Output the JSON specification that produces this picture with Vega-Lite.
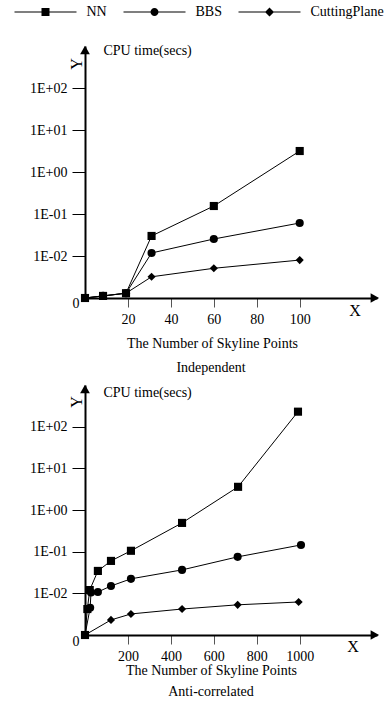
{
  "$schema": "https://vega.github.io/schema/vega-lite/v6.json",
  "padding": {"left": 12, "top": 5, "right": 0, "bottom": 0},
  "background": "white",
  "config": {
    "font": "Liberation Serif",
    "view": {"stroke": null},
    "axis": {
      "grid": false,
      "labelFont": "Liberation Serif",
      "titleFont": "Liberation Serif",
      "labelFontSize": 14,
      "titleFontSize": 14,
      "titleFontWeight": "normal",
      "labelColor": "black",
      "titleColor": "black",
      "domainColor": "black",
      "domainWidth": 2
    }
  },
  "bounds": "flush",
  "spacing": 87,
  "resolve": {"scale": {"shape": "independent"}, "legend": {"shape": "independent"}},
  "vconcat": [
    {
      "width": 292,
      "height": 252,
      "title": {"text": "Independent", "orient": "bottom", "font": "Liberation Serif", "fontSize": 14, "fontWeight": "normal", "color": "black", "offset": 11, "dx": -20},
      "resolve": {"scale": {"shape": "independent"}},
      "data": {"values": [
        {"series": "CuttingPlane", "x": 0, "y": 0.001},
        {"series": "CuttingPlane", "x": 8.4, "y": 0.00112},
        {"series": "CuttingPlane", "x": 19.1, "y": 0.0013},
        {"series": "CuttingPlane", "x": 31, "y": 0.0032},
        {"series": "CuttingPlane", "x": 60, "y": 0.0051},
        {"series": "CuttingPlane", "x": 100, "y": 0.0080},
        {"series": "BBS", "x": 0, "y": 0.001},
        {"series": "BBS", "x": 8.4, "y": 0.00112},
        {"series": "BBS", "x": 19.1, "y": 0.0013},
        {"series": "BBS", "x": 31, "y": 0.0118},
        {"series": "BBS", "x": 60, "y": 0.0254},
        {"series": "BBS", "x": 100, "y": 0.061},
        {"series": "NN", "x": 0, "y": 0.001},
        {"series": "NN", "x": 8.4, "y": 0.00112},
        {"series": "NN", "x": 19.1, "y": 0.0013},
        {"series": "NN", "x": 31, "y": 0.030},
        {"series": "NN", "x": 60, "y": 0.155},
        {"series": "NN", "x": 100, "y": 3.16}
      ]},
      "layer": [
        {
          "mark": {"type": "line", "color": "black", "strokeWidth": 1},
          "encoding": {
            "x": {"field": "x", "type": "quantitative", "scale": {"domain": [0, 136], "nice": false, "zero": false},
              "axis": {"values": [20, 40, 60, 80, 100], "tickSize": 9, "tickColor": "#555", "labelPadding": 5, "title": "The Number of Skyline Points", "titleX": 127, "titleY": 45, "titleBaseline": "middle"}},
            "y": {"field": "y", "type": "quantitative", "scale": {"type": "log", "domain": [0.001, 1000], "nice": false},
              "axis": {"values": [0.01, 0.1, 1, 10, 100], "tickSize": 13, "tickColor": "black", "labelPadding": 5,
                "labelExpr": "datum.value >= 100 ? '1E+02' : datum.value >= 10 ? '1E+01' : datum.value >= 1 ? '1E+00' : datum.value >= 0.1 ? '1E-01' : '1E-02'",
                "title": "CPU time(secs)", "titleAngle": 0, "titleAlign": "left", "titleBaseline": "middle", "titleX": 18, "titleY": 4}},
            "detail": {"field": "series"}
          }
        },
        {
          "mark": {"type": "point", "filled": true, "color": "black", "opacity": 1, "size": 66},
          "encoding": {
            "x": {"field": "x", "type": "quantitative"},
            "y": {"field": "y", "type": "quantitative"},
            "shape": {"field": "series", "type": "nominal",
              "scale": {"domain": ["NN", "BBS", "CuttingPlane"], "range": ["square", "circle", "diamond"]},
              "legend": null}
          }
        },
        {
          "data": {"values": []},
          "mark": {"type": "point", "filled": true, "color": "black", "opacity": 1, "size": 64},
          "encoding": {
            "shape": {"field": "series", "type": "nominal",
              "scale": {"domain": ["NN", "BBS", "CuttingPlane"], "range": [
                "M-7.75,-0.125L7.75,-0.125L7.75,0.125L-7.75,0.125ZM-1,-1L1,-1L1,1L-1,1Z",
                "M-7.75,-0.125L7.75,-0.125L7.75,0.125L-7.75,0.125ZM-1,0A1,1,0,1,1,1,0A1,1,0,1,1,-1,0Z",
                "M-7.75,-0.125L7.75,-0.125L7.75,0.125L-7.75,0.125ZM0,-1.125L1.125,0L0,1.125L-1.125,0Z"]},
              "legend": {"orient": "none", "legendX": -73, "legendY": -41, "direction": "horizontal", "title": null,
                "symbolSize": 64, "symbolStrokeWidth": 0, "symbolFillColor": "black", "symbolOpacity": 1,
                "symbolOffset": 26.5, "labelOffset": 34,
                "labelFont": "Liberation Serif", "labelFontSize": 14, "labelColor": "black", "columnPadding": 14}}
          }
        },
        {
          "data": {"values": [{}]},
          "mark": {"type": "point", "shape": "triangle-right", "filled": true, "color": "black", "opacity": 1, "size": 95},
          "encoding": {"x": {"datum": 135}, "y": {"datum": 0.001}}
        },
        {
          "data": {"values": [{}]},
          "mark": {"type": "point", "shape": "triangle-up", "filled": true, "color": "black", "opacity": 1, "size": 95},
          "encoding": {"x": {"datum": 0}, "y": {"datum": 800}}
        },
        {
          "data": {"values": [{}]},
          "mark": {"type": "text", "text": "0", "font": "Liberation Serif", "fontSize": 14, "color": "black", "align": "center", "baseline": "middle", "dx": -9, "dy": 6},
          "encoding": {"x": {"datum": 0}, "y": {"datum": 0.001}}
        },
        {
          "data": {"values": [{}]},
          "mark": {"type": "text", "text": "X", "font": "Liberation Serif", "fontSize": 16, "color": "black", "align": "center", "baseline": "middle", "dy": 13},
          "encoding": {"x": {"datum": 125.8}, "y": {"datum": 0.001}}
        },
        {
          "data": {"values": [{}]},
          "mark": {"type": "text", "text": "Y", "font": "Liberation Serif", "fontSize": 16, "color": "black", "align": "center", "baseline": "middle", "angle": 270},
          "encoding": {"x": {"datum": -3.7}, "y": {"datum": 373}}
        }
      ]
    },
    {
      "width": 292,
      "height": 250,
      "title": {"text": "Anti-correlated", "orient": "bottom", "font": "Liberation Serif", "fontSize": 14, "fontWeight": "normal", "color": "black", "offset": 8, "dx": -20},
      "data": {"values": [
        {"series": "CuttingPlane", "x": 0, "y": 0.001},
        {"series": "CuttingPlane", "x": 121, "y": 0.0023},
        {"series": "CuttingPlane", "x": 214, "y": 0.0032},
        {"series": "CuttingPlane", "x": 452, "y": 0.0042},
        {"series": "CuttingPlane", "x": 711, "y": 0.0053},
        {"series": "CuttingPlane", "x": 995, "y": 0.0062},
        {"series": "BBS", "x": 0, "y": 0.001},
        {"series": "BBS", "x": 24, "y": 0.0045},
        {"series": "BBS", "x": 28, "y": 0.0105},
        {"series": "BBS", "x": 60, "y": 0.0108},
        {"series": "BBS", "x": 121, "y": 0.015},
        {"series": "BBS", "x": 214, "y": 0.0223},
        {"series": "BBS", "x": 452, "y": 0.0365},
        {"series": "BBS", "x": 711, "y": 0.075},
        {"series": "BBS", "x": 1006, "y": 0.145},
        {"series": "NN", "x": 0, "y": 0.001},
        {"series": "NN", "x": 11, "y": 0.0042},
        {"series": "NN", "x": 22, "y": 0.012},
        {"series": "NN", "x": 60, "y": 0.0345},
        {"series": "NN", "x": 121, "y": 0.060},
        {"series": "NN", "x": 214, "y": 0.105},
        {"series": "NN", "x": 452, "y": 0.49},
        {"series": "NN", "x": 713, "y": 3.6},
        {"series": "NN", "x": 992, "y": 229}
      ]},
      "layer": [
        {
          "mark": {"type": "line", "color": "black", "strokeWidth": 1},
          "encoding": {
            "x": {"field": "x", "type": "quantitative", "scale": {"domain": [0, 1360], "nice": false, "zero": false},
              "axis": {"values": [200, 400, 600, 800, 1000], "format": "d", "tickSize": 9, "tickColor": "#555", "labelPadding": 5, "title": "The Number of Skyline Points", "titleX": 126, "titleY": 35, "titleBaseline": "middle"}},
            "y": {"field": "y", "type": "quantitative", "scale": {"type": "log", "domain": [0.001, 1000], "nice": false},
              "axis": {"values": [0.01, 0.1, 1, 10, 100], "tickSize": 13, "tickColor": "black", "labelPadding": 5,
                "labelExpr": "datum.value >= 100 ? '1E+02' : datum.value >= 10 ? '1E+01' : datum.value >= 1 ? '1E+00' : datum.value >= 0.1 ? '1E-01' : '1E-02'",
                "title": "CPU time(secs)", "titleAngle": 0, "titleAlign": "left", "titleBaseline": "middle", "titleX": 18, "titleY": 7}},
            "detail": {"field": "series"}
          }
        },
        {
          "mark": {"type": "point", "filled": true, "color": "black", "opacity": 1, "size": 66},
          "encoding": {
            "x": {"field": "x", "type": "quantitative"},
            "y": {"field": "y", "type": "quantitative"},
            "shape": {"field": "series", "type": "nominal",
              "scale": {"domain": ["NN", "BBS", "CuttingPlane"], "range": ["square", "circle", "diamond"]},
              "legend": null}
          }
        },
        {
          "data": {"values": [{}]},
          "mark": {"type": "point", "shape": "triangle-right", "filled": true, "color": "black", "opacity": 1, "size": 95},
          "encoding": {"x": {"datum": 1350}, "y": {"datum": 0.001}}
        },
        {
          "data": {"values": [{}]},
          "mark": {"type": "point", "shape": "triangle-up", "filled": true, "color": "black", "opacity": 1, "size": 95},
          "encoding": {"x": {"datum": 0}, "y": {"datum": 800}}
        },
        {
          "data": {"values": [{}]},
          "mark": {"type": "text", "text": "0", "font": "Liberation Serif", "fontSize": 14, "color": "black", "align": "center", "baseline": "middle", "dx": -9, "dy": 7},
          "encoding": {"x": {"datum": 0}, "y": {"datum": 0.001}}
        },
        {
          "data": {"values": [{}]},
          "mark": {"type": "text", "text": "X", "font": "Liberation Serif", "fontSize": 16, "color": "black", "align": "center", "baseline": "middle", "dy": 12},
          "encoding": {"x": {"datum": 1248}, "y": {"datum": 0.001}}
        },
        {
          "data": {"values": [{}]},
          "mark": {"type": "text", "text": "Y", "font": "Liberation Serif", "fontSize": 16, "color": "black", "align": "center", "baseline": "middle", "angle": 270},
          "encoding": {"x": {"datum": -37}, "y": {"datum": 390}}
        }
      ]
    }
  ]
}
